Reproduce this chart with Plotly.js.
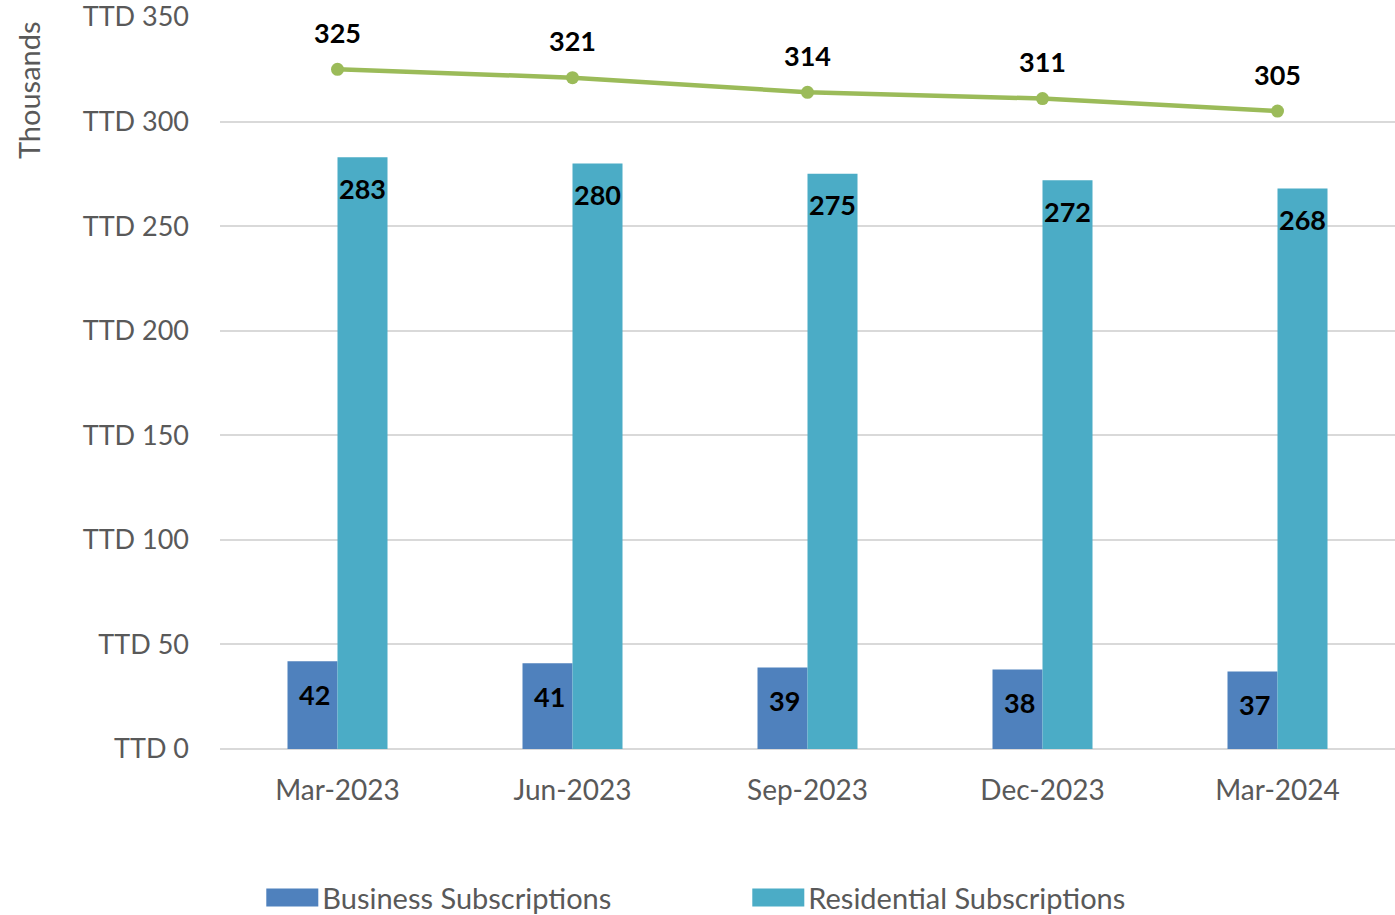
<!DOCTYPE html>
<html>
<head>
<meta charset="utf-8">
<script src="https://cdn.plot.ly/plotly-3.0.1.min.js"></script>
<style>html,body{margin:0;padding:0;background:#fff;}#chart{width:1395px;height:915px;}</style>
</head>
<body>
<div id="chart"></div>
<script>
const categories = ["Mar-2023", "Jun-2023", "Sep-2023", "Dec-2023", "Mar-2024"];
const business = [42, 41, 39, 38, 37];
const residential = [283, 280, 275, 272, 268];
const total = [325, 321, 314, 311, 305];
const yTickVals = [0, 50, 100, 150, 200, 250, 300, 350];
const yTickText = yTickVals.map(v => "TTD " + v);

const FONT = "Lato, 'Open Sans', sans-serif";
const GRAY = "#595959";

const traces = [
  {type: "bar", name: "Business Subscriptions", x: categories, y: business,
   marker: {color: "#4F81BD"}, hoverinfo: "none"},
  {type: "bar", name: "Residential Subscriptions", x: categories, y: residential,
   marker: {color: "#4BACC6"}, hoverinfo: "none"},
  {type: "scatter", mode: "lines+markers", name: "Total", x: categories, y: total,
   line: {color: "#9BBB59", width: 4.5}, marker: {color: "#9BBB59", size: 13},
   showlegend: false, hoverinfo: "none"}
];

const annotations = [];
const labFont = {family: FONT, size: 27, color: "#000000"};
categories.forEach((c, i) => {
  annotations.push({x: c, y: business[i], xref: "x", yref: "y", text: "<b>" + business[i] + "</b>",
    showarrow: false, xshift: -23, yshift: -33, font: labFont});
  annotations.push({x: c, y: residential[i], xref: "x", yref: "y", text: "<b>" + residential[i] + "</b>",
    showarrow: false, xshift: 25, yshift: -31, font: labFont});
  annotations.push({x: c, y: total[i], xref: "x", yref: "y", text: "<b>" + total[i] + "</b>",
    showarrow: false, yshift: 37, font: labFont});
});
annotations.push({x: -0.1635, y: 0.90, xref: "paper", yref: "paper", xanchor: "center", yanchor: "middle",
  text: "Thousands", textangle: -90, showarrow: false, font: {family: FONT, size: 29, color: GRAY}});

const layout = {
  width: 1395, height: 915,
  margin: {l: 220, r: 0, t: 17, b: 166},
  paper_bgcolor: "#ffffff", plot_bgcolor: "#ffffff",
  font: {family: FONT, size: 28, color: GRAY},
  barmode: "group", bargap: 0.5745, bargroupgap: 0,
  xaxis: {type: "category", showgrid: false, zeroline: false, showline: false, ticks: "",
    tickfont: {family: FONT, size: 28, color: GRAY}, ticklabelstandoff: 22, fixedrange: true},
  yaxis: {range: [0, 350], tickvals: yTickVals, ticktext: yTickText, showgrid: true,
    gridcolor: "#D9D9D9", gridwidth: 2, zeroline: true, zerolinecolor: "#D9D9D9", zerolinewidth: 2,
    showline: false, ticks: "", tickfont: {family: FONT, size: 27, color: GRAY},
    ticklabelstandoff: 30, ticklabeloverflow: "allow", fixedrange: true},
  showlegend: true,
  legend: {orientation: "h", x: 0.036, xanchor: "left", yref: "container", y: 0.019, yanchor: "middle",
    entrywidth: 421, entrywidthmode: "pixels", font: {family: FONT, size: 29, color: GRAY},
    itemwidth: 50, bgcolor: "rgba(0,0,0,0)"},
  annotations: annotations
};

Plotly.newPlot("chart", traces, layout, {displayModeBar: false, staticPlot: true}).then(gd => {
  gd.querySelectorAll(".legend .legendpoints path").forEach(p => {
    p.setAttribute("d", "M-26,-9H26V9H-26Z");
  });
});
</script>
</body>
</html>
